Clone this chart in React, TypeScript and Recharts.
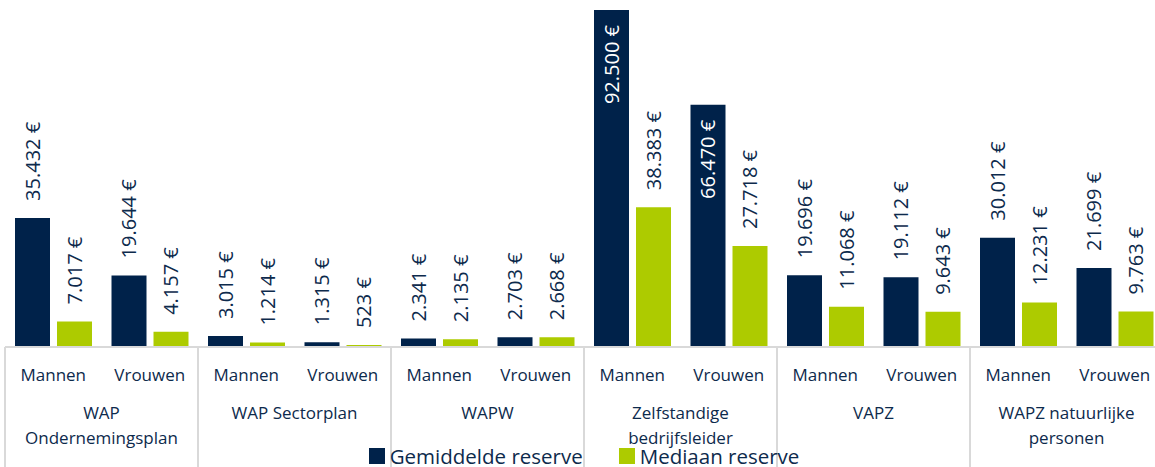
import React from "react";
import { BarChart, Bar, XAxis, YAxis, Legend, LabelList } from "recharts";

const genders = ["Mannen", "Vrouwen", "Mannen", "Vrouwen", "Mannen", "Vrouwen", "Mannen", "Vrouwen", "Mannen", "Vrouwen", "Mannen", "Vrouwen"];
const groups = [
  ["WAP", "Ondernemingsplan"],
  ["WAP Sectorplan"],
  ["WAPW"],
  ["Zelfstandige", "bedrijfsleider"],
  ["VAPZ"],
  ["WAPZ natuurlijke", "personen"],
];
const gemiddelde = [35432, 19644, 3015, 1315, 2341, 2703, 92500, 66470, 19696, 19112, 30012, 21699];
const mediaan = [7017, 4157, 1214, 523, 2135, 2668, 38383, 27718, 11068, 9643, 12231, 9763];

const NAVY = "#00224a";
const GREEN = "#adcb00";
const TEXT = "#0d2a4c";
const GRID = "#d9d9d9";
const FONT = "'Open Sans', sans-serif";

const data = genders.map((g, i) => ({
  name: g,
  group: i,
  gemiddelde: gemiddelde[i],
  mediaan: mediaan[i],
}));

const fmt = (v: number) => String(v).replace(/\B(?=(\d{3})+(?!\d))/g, ".") + " €";

const ValueLabel = (props: any) => {
  const { x, y, width, value } = props;
  const cx = Number(x) + Number(width) / 2;
  const top = Number(y);
  const inside = value > 60000;
  if (inside) {
    const ty = top + 15;
    return (
      <text x={cx} y={ty} transform={`rotate(-90 ${cx} ${ty})`} textAnchor="end" dominantBaseline="central" fill="#ffffff" fontSize={20} fontFamily={FONT}>
        {fmt(value)}
      </text>
    );
  }
  const ty = top - 17;
  return (
    <text x={cx} y={ty} transform={`rotate(-90 ${cx} ${ty})`} textAnchor="start" dominantBaseline="central" fill={TEXT} fontSize={20} fontFamily={FONT}>
      {fmt(value)}
    </text>
  );
};

const CategoryTick = (props: any) => {
  const { x, y, payload } = props;
  const i = payload?.index ?? props.index ?? 0;
  const half = payload?.offset ?? 48;
  const items: any[] = [];
  items.push(
    <text key="g" x={x} y={y + 27} textAnchor="middle" dominantBaseline="central" fill={TEXT} fontSize={17} fontFamily={FONT}>
      {payload.value}
    </text>
  );
  if (i % 2 === 0) {
    items.push(<line key="sl" x1={x - half} x2={x - half} y1={y} y2={y + 125} stroke={GRID} strokeWidth={2} />);
  } else {
    items.push(<line key="sr" x1={x + half} x2={x + half} y1={y} y2={y + 125} stroke={GRID} strokeWidth={2} />);
    const lines = groups[Math.floor(i / 2)];
    lines.forEach((ln, k) => {
      items.push(
        <text key={"l" + k} x={x - half} y={y + 65 + k * 25} textAnchor="middle" dominantBaseline="central" fill={TEXT} fontSize={17} fontFamily={FONT}>
          {ln}
        </text>
      );
    });
  }
  return <g>{items}</g>;
};

const LegendContent = () => (
  <div style={{ display: "flex", justifyContent: "center", alignItems: "center", fontFamily: FONT, fontSize: 20.5, color: TEXT, lineHeight: "22px", height: 22, overflow: "visible" }}>
    <span style={{ display: "inline-block", width: 16, height: 16, background: NAVY, marginRight: 5 }} />
    <span style={{ marginRight: 36 }}>Gemiddelde reserve</span>
    <span style={{ display: "inline-block", width: 16, height: 16, background: GREEN, marginRight: 5 }} />
    <span>Mediaan reserve</span>
  </div>
);

export default function App() {
  return (
    <div style={{ position: "absolute", left: 0, top: 0, width: 1155, height: 467, overflow: "hidden", background: "#fff" }}>
      <BarChart
        width={1168}
        height={467}
        data={data}
        margin={{ top: 10, right: 5, bottom: 0, left: 5 }}
        barGap={7}
        barCategoryGap={10}
      >
        <XAxis
          dataKey="name"
          axisLine={{ stroke: GRID, strokeWidth: 2 }}
          tickLine={false}
          tickSize={0}
          tickMargin={0}
          height={98}
          interval={0}
          tick={<CategoryTick />}
        />
        <YAxis hide domain={[0, 92500]} />
        <Legend verticalAlign="bottom" height={22} content={<LegendContent />} />
        <Bar dataKey="gemiddelde" fill={NAVY} isAnimationActive={false}>
          <LabelList dataKey="gemiddelde" content={<ValueLabel />} />
        </Bar>
        <Bar dataKey="mediaan" fill={GREEN} isAnimationActive={false}>
          <LabelList dataKey="mediaan" content={<ValueLabel />} />
        </Bar>
      </BarChart>
    </div>
  );
}
